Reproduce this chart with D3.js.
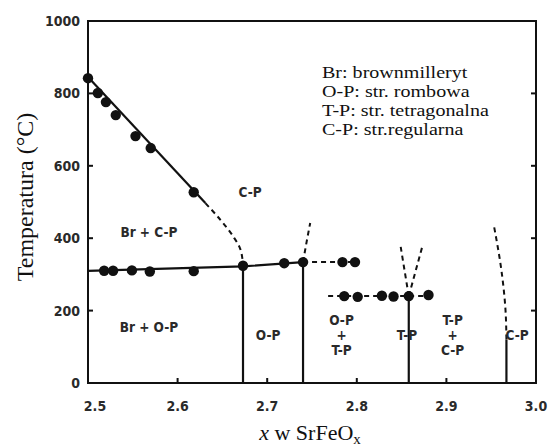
<!DOCTYPE html>
<html>
<head>
<meta charset="utf-8">
<script src="https://cdn.jsdelivr.net/npm/d3@7"></script>
<style>
body { margin: 0; background: #fff; }
.lbl { font-family: "DejaVu Sans Condensed", "DejaVu Sans", sans-serif; font-size: 13.5px; font-weight: bold; fill: #2a2a2a; }
.tick { font-family: "DejaVu Sans Condensed", "DejaVu Sans", sans-serif; font-size: 14px; font-weight: bold; fill: #2a2a2a; }
.serif { font-family: "Liberation Serif", "Times New Roman", serif; fill: #111; }
</style>
</head>
<body>
<div id="chart"></div>
<script>
// axis ticks
var xTicks = [2.5, 2.6, 2.7, 2.8, 2.9, 3.0];
var yTicks = [0, 200, 400, 600, 800, 1000];

// measured points (x, T)
var upperDotsX = [2.5, 2.511, 2.52, 2.531, 2.553, 2.57, 2.618];
var upperDotsT = [842, 801, 776, 740, 682, 649, 527];
var midDotsX = [2.518, 2.528, 2.549, 2.569, 2.618, 2.673, 2.719, 2.74, 2.784, 2.798];
var midDotsT = [310, 310, 311, 308, 309, 324, 331, 334, 334, 334];
var lowDotsX = [2.786, 2.801, 2.828, 2.841, 2.858, 2.88];
var lowDotsT = [240, 238, 241, 239, 240, 243];

// phase boundaries
var solidLines = [
  [[2.5, 845], [2.631, 497]],
  [[2.5, 310], [2.673, 322], [2.74, 334]],
  [[2.673, 0], [2.673, 324]],
  [[2.74, 0], [2.74, 334]],
  [[2.858, 0], [2.858, 240]],
  [[2.967, 0], [2.967, 120]]
];
var dashedLines = [
  [[2.631, 497], [2.648, 450], [2.662, 405], [2.670, 370], [2.673, 326]],
  [[2.74, 334], [2.80, 334]],
  [[2.768, 240], [2.88, 240]],
  [[2.74, 334], [2.744, 390], [2.748, 442]],
  [[2.858, 240], [2.849, 376]],
  [[2.858, 240], [2.873, 376]],
  [[2.967, 120], [2.966, 200], [2.962, 300], [2.953, 435]]
];

// phase labels: x, T, lines of text
var phaseX = [2.681, 2.568, 2.568, 2.701, 2.783, 2.856, 2.907, 2.979];
var phaseT = [528, 417, 155, 133, 133, 133, 133, 133];
var phaseText = [["C-P"], ["Br + C-P"], ["Br + O-P"], ["O-P"], ["O-P", "+", "T-P"], ["T-P"], ["T-P", "+", "C-P"], ["C-P"]];

var legendLines = ["Br: brownmilleryt", "O-P: str. rombowa", "T-P: str. tetragonalna", "C-P: str.regularna"];

var width = 550, height = 448;
var svg = d3.select("#chart").append("svg")
  .attr("width", width).attr("height", height);

var x = d3.scaleLinear().domain([2.5, 3.0]).range([88, 536]);
var y = d3.scaleLinear().domain([0, 1000]).range([383, 21]);

var line = d3.line().x(d => x(d[0])).y(d => y(d[1])).curve(d3.curveMonotoneY);
var straight = d3.line().x(d => x(d[0])).y(d => y(d[1]));

// frame
svg.append("rect")
  .attr("x", x(2.5)).attr("y", y(1000))
  .attr("width", x(3.0) - x(2.5)).attr("height", y(0) - y(1000))
  .attr("fill", "none").attr("stroke", "#111").attr("stroke-width", 2);

// inward ticks
var inner = yTicks.slice(1, -1);
svg.selectAll(".ytl").data(inner).enter().append("line")
  .attr("x1", x(2.5)).attr("x2", x(2.5) + 5)
  .attr("y1", d => y(d)).attr("y2", d => y(d))
  .attr("stroke", "#111").attr("stroke-width", 2);
svg.selectAll(".ytr").data(inner).enter().append("line")
  .attr("x1", x(3.0)).attr("x2", x(3.0) - 5)
  .attr("y1", d => y(d)).attr("y2", d => y(d))
  .attr("stroke", "#111").attr("stroke-width", 2);
svg.selectAll(".xtb").data(xTicks.slice(1, -1)).enter().append("line")
  .attr("x1", d => x(d)).attr("x2", d => x(d))
  .attr("y1", y(0)).attr("y2", y(0) - 5)
  .attr("stroke", "#111").attr("stroke-width", 2);

// tick labels
svg.selectAll(".yl").data(yTicks).enter().append("text")
  .attr("class", "tick")
  .attr("x", x(2.5) - 8).attr("y", d => y(d) + 5)
  .attr("text-anchor", "end")
  .text(d => d);
svg.selectAll(".xl").data(xTicks).enter().append("text")
  .attr("class", "tick")
  .attr("x", d => x(d) + (d === 2.5 ? 7 : 0)).attr("y", 411)
  .attr("text-anchor", "middle")
  .text(d => d.toFixed(1));

// boundaries
solidLines.forEach(function(pts) {
  svg.append("path").attr("d", straight(pts))
    .attr("fill", "none").attr("stroke", "#111").attr("stroke-width", 2.2);
});
dashedLines.forEach(function(pts) {
  svg.append("path").attr("d", pts.length > 2 ? line(pts) : straight(pts))
    .attr("fill", "none").attr("stroke", "#111").attr("stroke-width", 2)
    .attr("stroke-dasharray", "5,4");
});

// data points
function dots(xs, ts) {
  svg.selectAll(null).data(xs).enter().append("circle")
    .attr("cx", d => x(d)).attr("cy", (d, i) => y(ts[i]))
    .attr("r", 5.2).attr("fill", "#111");
}
dots(upperDotsX, upperDotsT);
dots(midDotsX, midDotsT);
dots(lowDotsX, lowDotsT);

// phase labels
phaseText.forEach(function(lines, i) {
  var t = svg.append("text").attr("class", "lbl")
    .attr("text-anchor", "middle");
  lines.forEach(function(s, j) {
    t.append("tspan").attr("x", x(phaseX[i]))
      .attr("y", y(phaseT[i]) + 5 + (j - (lines.length - 1) / 2) * 15)
      .text(s);
  });
});

// legend (slightly stretched like the source image)
var leg = svg.append("g").attr("transform", "translate(322,0) scale(1.18,1)");
leg.selectAll("text").data(legendLines).enter().append("text")
  .attr("class", "serif").attr("font-size", 17)
  .attr("x", 0).attr("y", (d, i) => 78 + i * 19)
  .text(d => d);

// axis titles
svg.append("text").attr("class", "serif").attr("font-size", 24)
  .attr("transform", "translate(33,197) rotate(-90)")
  .attr("text-anchor", "middle")
  .text("Temperatura (°C)");

var xt = svg.append("text").attr("class", "serif").attr("font-size", 22)
  .attr("x", 310).attr("y", 440).attr("text-anchor", "middle");
xt.append("tspan").attr("font-style", "italic").text("x");
xt.append("tspan").text(" w SrFeO");
xt.append("tspan").attr("font-size", 15).attr("dy", 4).text("x");
</script>
</body>
</html>
